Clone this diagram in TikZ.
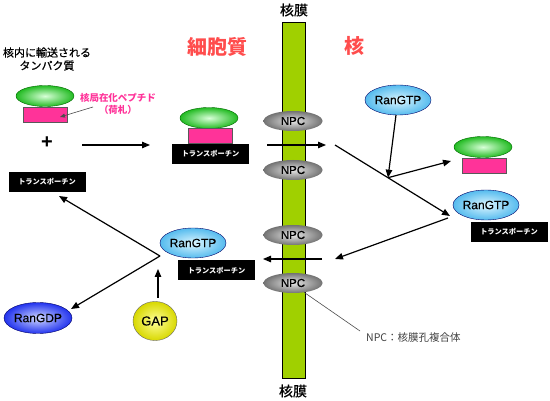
\documentclass[tikz,border=0pt]{standalone}
\usepackage{fontspec}
\setmainfont{Liberation Sans}
\newfontfamily\cjk{Noto Sans CJK JP}
\newfontfamily\cjkm[FakeBold=0.6]{Noto Sans CJK JP}
\newfontfamily\latm[FakeBold=0.4]{Liberation Sans}
\usetikzlibrary{shapes.geometric,arrows.meta}
\definecolor{barg}{HTML}{A0D000}
\definecolor{pinkc}{HTML}{FF3399}
\definecolor{redt}{HTML}{FF4D4D}
\definecolor{pinkt}{HTML}{FF3399}
\definecolor{gtpin}{HTML}{DDF6FF}
\definecolor{gtpout}{HTML}{55BBEE}
\definecolor{grin}{HTML}{D8FFD8}
\definecolor{grout}{HTML}{22BB22}
\definecolor{gdpin}{HTML}{D0D8FF}
\definecolor{gdpout}{HTML}{2233EE}
\definecolor{yin}{HTML}{FFFF99}
\definecolor{yout}{HTML}{D8D800}
\tikzset{
  arr/.style={draw, line width=1.2pt, -{Triangle[length=8pt,width=6.5pt]}},
  thin line/.style={draw=black!70, line width=0.6pt},
  tport/.style={fill=black, text=white, minimum width=77pt, minimum height=20pt, inner sep=0pt,
    font=\cjk\bfseries\fontsize{7.2}{8}\selectfont},
  cargo/.style={ellipse, draw=green!40!black, inner color=grin, outer color=grout,
    minimum width=58pt, minimum height=21pt, inner sep=0pt},
  nls/.style={rectangle, draw=black!65, fill=pinkc, minimum width=44pt, minimum height=15pt, inner sep=0pt},
  npc/.style={ellipse, inner color=black!10, outer color=black!55, minimum width=59pt, minimum height=20pt,
    inner sep=0pt, font=\latm\fontsize{11.5}{12}\selectfont},
  rangtp/.style={ellipse, draw=blue!40!black, inner color=gtpin, outer color=gtpout,
    minimum width=59pt, minimum height=30pt, inner sep=0pt, font=\latm\fontsize{12}{13}\selectfont},
  rangdp/.style={ellipse, draw=blue!40!black, inner color=gdpin, outer color=gdpout,
    minimum width=68pt, minimum height=31pt, inner sep=0pt, font=\latm\fontsize{12}{13}\selectfont},
  gap/.style={ellipse, draw=black!60, inner color=yin, outer color=yout,
    minimum width=44pt, minimum height=39pt, inner sep=0pt, font=\latm\fontsize{13}{14}\selectfont},
  jlabel/.style={font=\cjkm\fontsize{11}{13}\selectfont, align=center, inner sep=0pt},
  region/.style={font=\cjk\bfseries\fontsize{20}{22}\selectfont, text=redt, inner sep=0pt},
  memlabel/.style={font=\cjkm\fontsize{14}{15}\selectfont, inner sep=0pt},
}
\begin{document}
\begin{tikzpicture}[x=1pt,y=-1pt]
\useasboundingbox (0,0) rectangle (550,401);
% membrane
\node[draw=black, fill=barg, minimum width=23pt, minimum height=356pt, inner sep=0pt, line width=0.6pt] (bar) at (293.5,200) {};
\node[memlabel] (memtop) at (294,10) {核膜};
\node[memlabel] (membot) at (293,391) {核膜};
% NPCs
\node[npc] (npc1) at (293,121) {NPC};
\node[npc] (npc2) at (293,170) {NPC};
\node[npc] (npc3) at (293,235) {NPC};
\node[npc] (npc4) at (293,283) {NPC};
% region labels
\node[region] (cyto) at (217,47) {細胞質};
\node[region] (nuc) at (354,46) {核};
% top-left cargo
\node[jlabel] (cargotxt) at (47,59) {核内に輸送される\\タンパク質};
\node[cargo] (c1) at (45,96) {};
\node[nls] (n1) at (45.5,115) {};
\node[font=\cjk\bfseries\fontsize{9.5}{12}\selectfont, text=pinkt, align=center, inner sep=0pt] (nlstxt) at (118,104) {核局在化ペプチド\\（荷札）};
\coordinate (nlsfrom) at (93,107);
\coordinate (nlsto) at (60,117);
\draw[thin line, -{Triangle[length=5pt,width=4pt]}] (nlsfrom) -- (nlsto);
\node[font=\bfseries\fontsize{20}{20}\selectfont, inner sep=0pt] (plus) at (47,143) {+};
\node[tport] (t1) at (47,182) {トランスポーチン};
% middle complex
\node[cargo] (c2) at (209,118) {};
\node[nls] (n2) at (210,136) {};
\node[tport] (t2) at (210.5,154) {トランスポーチン};
% right complex
\node[cargo] (c3) at (483,147) {};
\node[nls] (n3) at (484.5,165.5) {};
\node[rangtp] (r1) at (398,100) {RanGTP};
\node[rangtp] (r2) at (486,205) {RanGTP};
\node[tport] (t3) at (509,232) {トランスポーチン};
% left complex
\node[rangtp] (r3) at (193,243) {RanGTP};
\node[tport] (t4) at (216.5,270.5) {トランスポーチン};
\node[rangdp] (rgdp) at (38,318) {RanGDP};
\node[gap] (gp) at (155,321) {GAP};
% NPC explanation
\node[font=\cjk\fontsize{10.5}{12}\selectfont, text=black!75, anchor=west, inner sep=0pt] (npcnote) at (366,338) {NPC：核膜孔複合体};
\coordinate (npcnoteend) at (360,331);
\draw[thin line] (npc4.-40) -- (npcnoteend);
% arrows
\coordinate (a1s) at (82,145);
\coordinate (a1e) at (150,145);
\draw[arr] (a1s) -- (a1e);
\coordinate (a2s) at (267,145);
\coordinate (a2e) at (326,145);
\draw[arr] (a2s) -- (a2e);
\coordinate (d1s) at (335,145);
\coordinate (rv) at (450,216);
\coordinate (mj) at (388,177.7);
\coordinate (mjend) at (451,161);
\draw[arr] (d1s) -- (rv);
\coordinate (r1b) at (396,115);
\draw[arr] (r1b) -- (mj);
\draw[arr] (mj) -- (mjend);
\coordinate (rv2) at (448,218);
\coordinate (d2e) at (335,259);
\draw[arr] (rv2) -- (d2e);
\coordinate (a3s) at (322,259);
\coordinate (a3e) at (263,259);
\draw[arr] (a3s) -- (a3e);
\coordinate (lv) at (160,256);
\coordinate (lup) at (59,196);
\coordinate (ldn) at (71,309);
\draw[arr] (lv) -- (lup);
\draw[arr] (lv) -- (ldn);
\coordinate (gs) at (158,298);
\coordinate (ge) at (158,269);
\draw[arr] (gs) -- (ge);
\end{tikzpicture}
\end{document}
